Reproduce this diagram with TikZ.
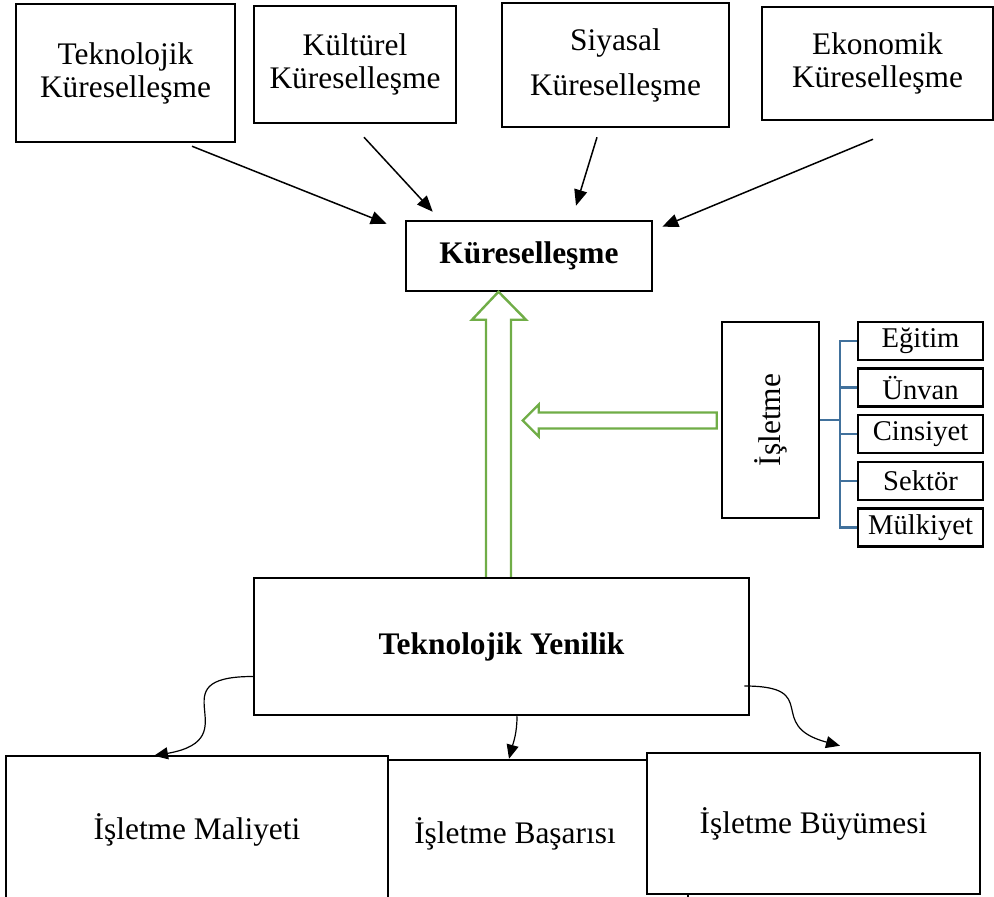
\documentclass[tikz,border=0pt]{standalone}
\usepackage{fontspec}
\setmainfont{Liberation Serif}
\usepackage{tikz}
\usetikzlibrary{arrows.meta}
\definecolor{grn}{HTML}{70AD47}
\definecolor{blu}{HTML}{41719C}

\begin{document}
\begin{tikzpicture}[x=0.5pt, y=-0.5pt,
    box/.style={draw, line width=1.25pt, fill=white, inner sep=0pt, align=center, font=\fontsize{15.7}{16.5}\selectfont},
    sidebox/.style={box, minimum width=62.5pt, minimum height=19pt, font=\fontsize{14.3}{16}\selectfont},
    arr/.style={-{Triangle[length=8pt,width=6.5pt]}, line width=0.75pt},
    curvearr/.style={-{Triangle[length=7pt,width=6pt]}, line width=0.6pt},
    garrow/.style={draw=grn, line width=1.2pt, fill=white, line join=miter},
    bracket/.style={draw=blu, line width=1.1pt}]
    \useasboundingbox (0,0) rectangle (994,897);
    \clip (0,0) rectangle (994,897);

    % kuresellesme turleri
    \node[box, minimum width=109.5pt, minimum height=69pt] (tekkure) at (125.5,73) {Teknolojik\\Küreselleşme};
    \node[box, minimum width=101pt, minimum height=58.5pt] (kulkure) at (355,64.5) {Kültürel\\Küreselleşme};
    \node[box, minimum width=113.5pt, minimum height=62pt] (siykure) at (615.5,65) {Siyasal\\[6pt]Küreselleşme};
    \node[box, minimum width=115.5pt, minimum height=56.5pt] (ekokure) at (877.5,63.5) {Ekonomik\\Küreselleşme};
    \node[box, minimum width=123pt, minimum height=35pt, font=\fontsize{15.7}{16.5}\selectfont\bfseries] (kure) at (529,256) {Küreselleşme};

    \draw[arr] ([xshift=33.25pt, yshift=-1.5pt]tekkure.south) -- ([xshift=-9pt, yshift=-2pt]kure.north west);
    \draw[arr] ([xshift=4.5pt, yshift=-6.5pt]kulkure.south) -- ([xshift=14pt, yshift=4pt]kure.north west);
    \draw[arr] ([xshift=-9.25pt, yshift=-4.5pt]siykure.south) -- ([xshift=23.5pt, yshift=7pt]kure.north);
    \draw[arr] ([xshift=-2.25pt, yshift=-9pt]ekokure.south) -- ([xshift=4.5pt, yshift=-3.5pt]kure.north east);

    % isletme ve alt basliklar
    \node[box, minimum width=48.5pt, minimum height=98pt] (isletme) at (770.5,420) {\rotatebox{90}{İşletme}};
    \node[sidebox] (egitim) at (920.5,341) {Eğitim};
    \node[sidebox] (unvan) at (920.5,387.6) {Ünvan};
    \node[sidebox] (cinsiyet) at (920.5,434.2) {Cinsiyet};
    \node[sidebox] (sektor) at (920.5,480.8) {Sektör};
    \node[sidebox] (mulkiyet) at (920.5,527.4) {Mülkiyet};

    \draw[bracket] (isletme.east) -- ++(20,0) |- (egitim.west);
    \draw[bracket] (isletme.east) -- ++(20,0) |- (unvan.west);
    \draw[bracket] (isletme.east) -- ++(20,0) |- (cinsiyet.west);
    \draw[bracket] (isletme.east) -- ++(20,0) |- (sektor.west);
    \draw[bracket] (isletme.east) -- ++(20,0) |- (mulkiyet.west);

    % teknolojik yenilik
    \node[box, minimum width=247.5pt, minimum height=68.5pt, font=\fontsize{15.7}{16.5}\selectfont\bfseries] (tekyen) at (501.5,646.5) {Teknolojik Yenilik};

    \draw[garrow] ([xshift=-7.75pt]tekyen.north) -- ++(0,-257) -- ++(-14,0) -- ++(26.5,-28) -- ++(27.5,28) -- ++(-15,0) -- ++(0,257);
    \draw[garrow] ([xshift=-2pt, yshift=3.75pt]isletme.west) -- ++(-178,0) -- ++(0,-8) -- ++(-16,16) -- ++(16,16) -- ++(0,-8) -- ++(178,0) -- cycle;

    % sonuclar
    \node[box, minimum width=191pt, minimum height=74pt] (maliyet) at (197,830) {İşletme Maliyeti};
    \node[box, minimum width=150pt, minimum height=74pt,
        label={[xshift=-11.5pt, font=\fontsize{15.7}{16.5}\selectfont]center:İşletme Başarısı}] (basari) at (538,834) {};
    \node[box, minimum width=166.5pt, minimum height=70.5pt] (buyume) at (813.5,823.5) {İşletme Büyümesi};

    \draw[curvearr] ([yshift=-15pt]tekyen.west) to[out=180, in=10, looseness=2] ([xshift=-21.5pt, yshift=-0.5pt]maliyet.north);
    \draw[curvearr] ([xshift=7.75pt]tekyen.south) to[out=-90, in=75] ([xshift=-14.5pt]basari.north);
    \draw[curvearr] ([xshift=-3pt, yshift=-19.75pt]tekyen.east) to[out=0, in=165, looseness=1.8] ([xshift=13.25pt, yshift=3pt]buyume.north);
\end{tikzpicture}
\end{document}
